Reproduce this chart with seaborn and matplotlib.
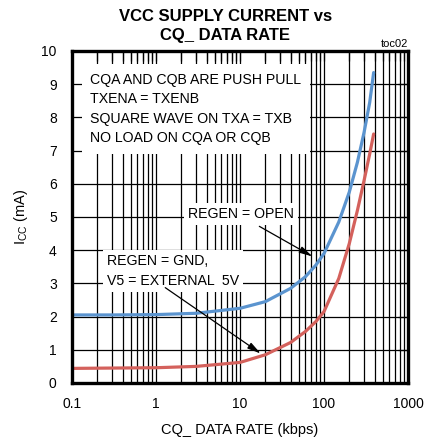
import matplotlib
matplotlib.use("Agg")
import matplotlib.pyplot as plt
import matplotlib.ticker as mticker
import numpy as np
import pandas as pd
import seaborn as sns

# ---- data ----
rate_open = [0.1, 0.3, 1, 3, 10, 20, 40, 60, 80, 100, 150, 200, 250, 300, 350, 390]
icc_open = [2.05, 2.05, 2.06, 2.1, 2.25, 2.45, 2.85, 3.2, 3.55, 3.9, 4.85, 5.75, 6.65, 7.55, 8.45, 9.35]
rate_gnd = [0.1, 0.3, 1, 3, 10, 20, 40, 60, 80, 100, 150, 200, 250, 300, 350, 390]
icc_gnd = [0.44, 0.45, 0.46, 0.5, 0.62, 0.85, 1.22, 1.55, 1.85, 2.15, 3.15, 4.2, 5.2, 6.1, 6.9, 7.5]

title = "VCC SUPPLY CURRENT vs\nCQ_ DATA RATE"
xlabel = "CQ_ DATA RATE (kbps)"
ylabel = "I$_\\mathregular{CC}$ (mA)"
xticklabels = ["0.1", "1", "10", "100", "1000"]
note_text = "CQA AND CQB ARE PUSH PULL\nTXENA = TXENB\nSQUARE WAVE ON TXA = TXB\nNO LOAD ON CQA OR CQB"
label_open = "REGEN = OPEN"
label_gnd = "REGEN = GND,\nV5 = EXTERNAL  5V"

df = pd.concat([
    pd.DataFrame({"rate": rate_open, "icc": icc_open, "cond": "open"}),
    pd.DataFrame({"rate": rate_gnd, "icc": icc_gnd, "cond": "gnd"}),
])

sns.set_style("white")
plt.rcParams["font.family"] = ["Liberation Sans", "DejaVu Sans"]
plt.rcParams.update({"text.color": "black", "axes.labelcolor": "black",
                     "xtick.color": "black", "ytick.color": "black",
                     "xtick.labelcolor": "black", "ytick.labelcolor": "black"})

fig = plt.figure(figsize=(4.25, 4.47), dpi=100)
ax = fig.add_axes([72 / 425, 1 - 383 / 447, 336 / 425, 332 / 447])

ax.set_xscale("log")
ax.set_xlim(0.1, 1000)
ax.set_ylim(0, 10)

# grid drawn manually so text boxes can sit above it while ticks remain above boxes
for dec in [0.1, 1, 10, 100]:
    for m in range(1, 10):
        v = dec * m
        if 0.1 < v < 1000:
            ax.axvline(v, color="black", lw=0.9, zorder=1)
for yv in range(1, 10):
    ax.axhline(yv, color="black", lw=0.9, zorder=1)

sns.lineplot(data=df, x="rate", y="icc", hue="cond",
             palette={"open": "#5b94cf", "gnd": "#d4615c"},
             lw=2.3, legend=False, ax=ax, zorder=4)

ax.set_axisbelow(False)
ax.xaxis.set_major_locator(mticker.FixedLocator([0.1, 1, 10, 100, 1000]))
ax.xaxis.set_major_formatter(mticker.FixedFormatter(xticklabels))
ax.xaxis.set_minor_locator(mticker.LogLocator(base=10, subs=np.arange(2, 10)))
ax.xaxis.set_minor_formatter(mticker.NullFormatter())
ax.set_yticks(range(0, 11))
ax.tick_params(which="both", direction="in", top=True, right=True,
               length=7, width=0.9, labelsize=10, color="black", labelcolor="black")
ax.tick_params(axis="x", pad=10)
ax.tick_params(axis="y", pad=11)
for sp in ax.spines.values():
    sp.set_linewidth(2.4)
    sp.set_color("black")
    sp.set_zorder(6)

ax.set_xlabel(xlabel, fontsize=10.5, labelpad=9, color="black")
ax.set_ylabel(ylabel, fontsize=10.5, labelpad=8, color="black")

bbox_w = dict(boxstyle="square,pad=0.3", fc="white", ec="none")
ax.text(0.164, 9.34, note_text, fontsize=10.2, va="top", ha="left",
        linespacing=1.5, zorder=2, color="black",
        bbox=dict(boxstyle="square,pad=0.6", fc="white", ec="none"),
        transform=ax.transData)
ax.text(2.4, 5.09, label_open, fontsize=10.2, va="center", ha="left",
        zorder=2, bbox=bbox_w, color="black")
ax.text(0.261, 3.37, label_gnd, fontsize=10.2, va="center", ha="left",
        linespacing=1.5, zorder=2, bbox=bbox_w, color="black")

arrow_kw = dict(arrowstyle="-|>,head_length=0.8,head_width=0.2", color="black", lw=0.9)
ax.annotate("", xy=(78, 3.77), xytext=(15.9, 4.76), arrowprops=arrow_kw, zorder=5)
ax.annotate("", xy=(18.8, 0.84), xytext=(1.21, 2.92), arrowprops=arrow_kw, zorder=5)

fig.text(0.53, 1 - 26 / 447, title, ha="center", va="center", fontsize=12,
         fontweight="bold", linespacing=1.35, color="black",
         family=["Liberation Sans Narrow", "Liberation Sans", "DejaVu Sans"])
fig.text(408 / 425, 1 - 44 / 447, "toc02", ha="right", va="center", fontsize=8,
         color="black")

fig.savefig("out.png", dpi=100)
